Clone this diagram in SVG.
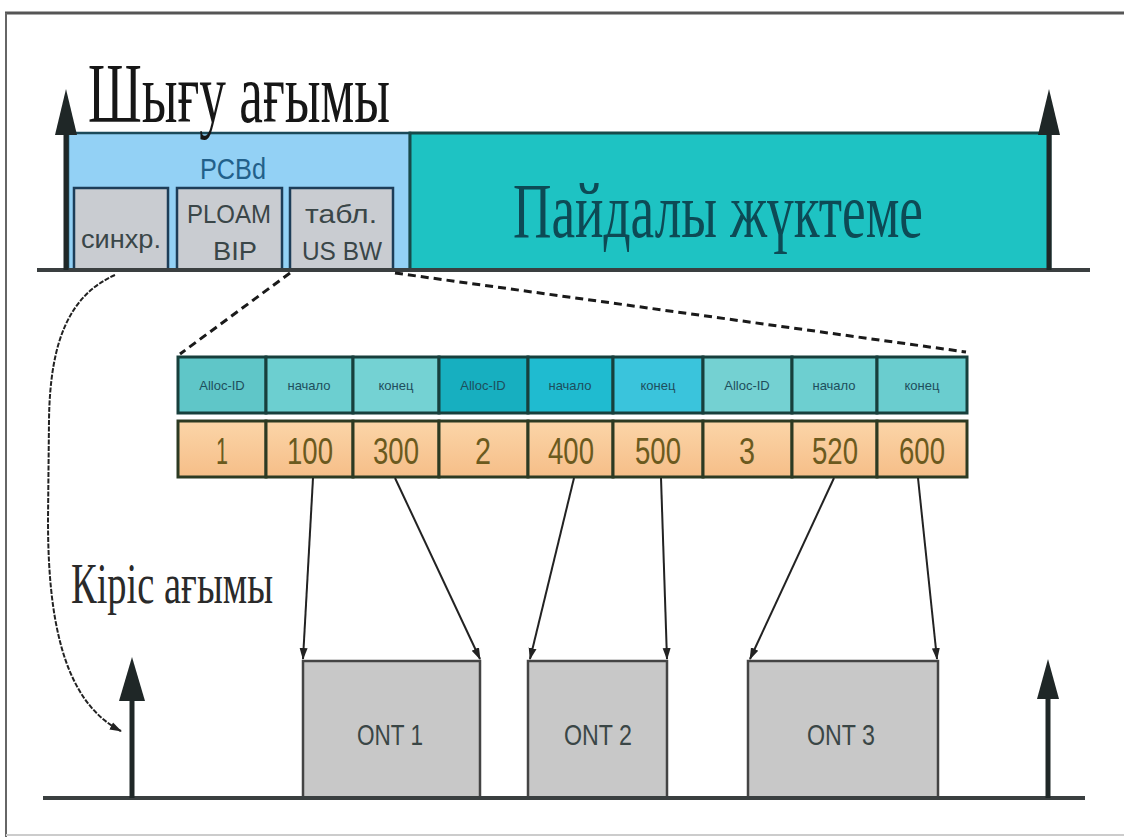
<svg xmlns="http://www.w3.org/2000/svg" width="1124" height="837" viewBox="0 0 1124 837">
<defs>
  <linearGradient id="peach" x1="0" y1="0" x2="0" y2="1">
    <stop offset="0" stop-color="#fbd5a8"/>
    <stop offset="1" stop-color="#f6be88"/>
  </linearGradient>
  <marker id="ah" viewBox="0 0 12 10" refX="11" refY="5" markerWidth="12" markerHeight="10" markerUnits="userSpaceOnUse" orient="auto">
    <path d="M0,1 L12,5 L0,9 z" fill="#222"/>
  </marker>
</defs>
<style>
  .serif{font-family:"Liberation Serif","DejaVu Serif",serif}
  .sans{font-family:"Liberation Sans","DejaVu Sans",sans-serif}
  .base{stroke:#3a3f40;stroke-width:4;fill:none}
  .upline{stroke:#1f2727;stroke-width:5}
  .uphead{fill:#1f2727}
  .sub{fill:#c9ccd1;stroke:#1d3d58;stroke-width:2.5}
  .subtxt{fill:#3a4648;font-size:26px;text-anchor:middle}
  .hdr{stroke:#173f3c;stroke-width:3}
  .hdrtxt{fill:#1e4e5c;font-size:13px;text-anchor:middle}
  .val{fill:url(#peach);stroke:#2c3a22;stroke-width:3}
  .valtxt{fill:#6b5a1e;font-size:36px;text-anchor:middle}
  .ont{fill:#c8c8c8;stroke:#444;stroke-width:2.5}
  .onttxt{fill:#3a4646;font-size:30px;text-anchor:middle}
  .dash{stroke:#1a1a1a;stroke-width:3;stroke-dasharray:8 5;fill:none}
  .conn{stroke:#222;stroke-width:2;fill:none;marker-end:url(#ah)}
</style>
<rect width="1124" height="837" fill="#ffffff"/>
<g id="frame">
  <line x1="5" y1="13" x2="1124" y2="13" stroke="#555" stroke-width="3"/>
  <line x1="6" y1="13" x2="6" y2="837" stroke="#666" stroke-width="2"/>
  <line x1="6" y1="835" x2="1124" y2="835" stroke="#ccc" stroke-width="2"/>
</g>

<g id="downstream-frame">
  <rect id="pcbd" x="68" y="133" width="342" height="137" fill="#93d1f5" stroke="#1b4a5a" stroke-width="2.5"/>
  <rect id="payload" x="410" y="133" width="640" height="137" fill="#1ec3c3" stroke="#174a4a" stroke-width="3"/>
  <text class="sans" x="233" y="179" font-size="29" fill="#22608a" text-anchor="middle" textLength="66" lengthAdjust="spacingAndGlyphs">PCBd</text>
  <text class="serif" x="718" y="237" font-size="78" fill="#0d4a55" text-anchor="middle" textLength="410" lengthAdjust="spacingAndGlyphs">Пайдалы жүктеме</text>
</g>
<g id="sync">
  <rect class="sub" x="74" y="188" width="94" height="82"/>
  <text class="sans subtxt" x="121" y="248" font-size="22" textLength="80" lengthAdjust="spacingAndGlyphs">синхр.</text>
</g>
<g id="ploam">
  <rect class="sub" x="177" y="188" width="105" height="82"/>
  <text class="sans subtxt" x="229" y="223" textLength="84" lengthAdjust="spacingAndGlyphs">PLOAM</text>
  <text class="sans subtxt" x="235" y="260" textLength="44" lengthAdjust="spacingAndGlyphs">BIP</text>
</g>
<g id="usbw">
  <rect class="sub" x="290" y="188" width="103" height="82"/>
  <text class="sans subtxt" x="341" y="223" textLength="72" lengthAdjust="spacingAndGlyphs">табл.</text>
  <text class="sans subtxt" x="342" y="260" textLength="80" lengthAdjust="spacingAndGlyphs">US BW</text>
</g>

<g id="title-down">
  <text class="serif" x="88" y="122" font-size="84" fill="#161616" textLength="302" lengthAdjust="spacingAndGlyphs">Шығу ағымы</text>
</g>
<g id="title-up">
  <text class="serif" x="71" y="603" font-size="56" fill="#2a2a2a" textLength="202" lengthAdjust="spacingAndGlyphs">Кіріс ағымы</text>
</g>

<g id="top-axis">
  <line class="base" x1="37" y1="270" x2="1090" y2="270" stroke-width="3.5"/>
  <line class="upline" x1="66" y1="270" x2="66" y2="128"/>
  <polygon class="uphead" points="66,89 55,135 77,135"/>
  <line class="upline" x1="1049" y1="270" x2="1049" y2="128"/>
  <polygon class="uphead" points="1049,89 1038,135 1060,135"/>
</g>

<g id="bw-table">
  <g id="hdr-cells">
    <rect class="hdr" x="178" y="357" width="88" height="56" fill="#5fc6c8"/>
    <rect class="hdr" x="266" y="357" width="87" height="56" fill="#6ccfd0"/>
    <rect class="hdr" x="353" y="357" width="86" height="56" fill="#74d2d3"/>
    <rect class="hdr" x="439" y="357" width="89" height="56" fill="#17afc0"/>
    <rect class="hdr" x="528" y="357" width="85" height="56" fill="#1fbbd0"/>
    <rect class="hdr" x="613" y="357" width="90" height="56" fill="#3ac4dc"/>
    <rect class="hdr" x="703" y="357" width="89" height="56" fill="#74d1d2"/>
    <rect class="hdr" x="792" y="357" width="85" height="56" fill="#6dcfd0"/>
    <rect class="hdr" x="877" y="357" width="90" height="56" fill="#6acdcf"/>
  </g>
  <g id="hdr-text" class="sans">
    <text class="hdrtxt" x="222" y="390">Alloc-ID</text>
    <text class="hdrtxt" x="309" y="390">начало</text>
    <text class="hdrtxt" x="396" y="390">конец</text>
    <text class="hdrtxt" x="483" y="390">Alloc-ID</text>
    <text class="hdrtxt" x="570" y="390" fill="#1f5a9a">начало</text>
    <text class="hdrtxt" x="658" y="390" fill="#1f5a9a">конец</text>
    <text class="hdrtxt" x="747" y="390">Alloc-ID</text>
    <text class="hdrtxt" x="834" y="390">начало</text>
    <text class="hdrtxt" x="922" y="390">конец</text>
  </g>
  <g id="val-cells">
    <rect class="val" x="178" y="421" width="88" height="56"/>
    <rect class="val" x="266" y="421" width="87" height="56"/>
    <rect class="val" x="353" y="421" width="86" height="56"/>
    <rect class="val" x="439" y="421" width="89" height="56"/>
    <rect class="val" x="528" y="421" width="85" height="56"/>
    <rect class="val" x="613" y="421" width="90" height="56"/>
    <rect class="val" x="703" y="421" width="89" height="56"/>
    <rect class="val" x="792" y="421" width="85" height="56"/>
    <rect class="val" x="877" y="421" width="90" height="56"/>
  </g>
  <g id="val-text" class="sans">
    <text class="valtxt" x="222" y="464" textLength="12" lengthAdjust="spacingAndGlyphs">1</text>
    <text class="valtxt" x="310" y="464" textLength="46" lengthAdjust="spacingAndGlyphs">100</text>
    <text class="valtxt" x="396" y="464" textLength="46" lengthAdjust="spacingAndGlyphs">300</text>
    <text class="valtxt" x="483" y="464" textLength="16" lengthAdjust="spacingAndGlyphs">2</text>
    <text class="valtxt" x="571" y="464" textLength="46" lengthAdjust="spacingAndGlyphs">400</text>
    <text class="valtxt" x="658" y="464" textLength="46" lengthAdjust="spacingAndGlyphs">500</text>
    <text class="valtxt" x="747" y="464" textLength="16" lengthAdjust="spacingAndGlyphs">3</text>
    <text class="valtxt" x="835" y="464" textLength="46" lengthAdjust="spacingAndGlyphs">520</text>
    <text class="valtxt" x="922" y="464" textLength="46" lengthAdjust="spacingAndGlyphs">600</text>
  </g>
</g>

<g id="ont1">
  <rect class="ont" x="303" y="661" width="177" height="137"/>
  <text class="sans onttxt" x="390" y="745" textLength="66" lengthAdjust="spacingAndGlyphs">ONT 1</text>
</g>
<g id="ont2">
  <rect class="ont" x="528" y="661" width="139" height="137"/>
  <text class="sans onttxt" x="598" y="745" textLength="68" lengthAdjust="spacingAndGlyphs">ONT 2</text>
</g>
<g id="ont3">
  <rect class="ont" x="748" y="661" width="190" height="137"/>
  <text class="sans onttxt" x="841" y="745" textLength="68" lengthAdjust="spacingAndGlyphs">ONT 3</text>
</g>

<g id="bottom-axis">
  <line class="base" x1="43" y1="798" x2="1085" y2="798" stroke-width="3.5"/>
  <line class="upline" x1="132" y1="798" x2="132" y2="695"/>
  <polygon class="uphead" points="132,657 119,701 145,701"/>
  <line class="upline" x1="1048" y1="798" x2="1048" y2="695"/>
  <polygon class="uphead" points="1048,659 1037,699 1059,699"/>
</g>

<g id="connectors">
  <line class="dash" x1="290" y1="273" x2="180" y2="354"/>
  <line class="dash" x1="395" y1="273" x2="966" y2="352"/>
  <path class="conn" d="M115,275 C70,295 50,340 49,420 L48,520 C48,610 60,700 121,731" stroke-width="2.5" stroke-dasharray="5 1.5"/>
  <line class="conn" x1="313" y1="478" x2="303" y2="659"/>
  <line class="conn" x1="395" y1="478" x2="480" y2="659"/>
  <line class="conn" x1="574" y1="478" x2="530" y2="659"/>
  <line class="conn" x1="661" y1="478" x2="667" y2="659"/>
  <line class="conn" x1="834" y1="478" x2="750" y2="659"/>
  <line class="conn" x1="918" y1="478" x2="937" y2="659"/>
</g>
</svg>
